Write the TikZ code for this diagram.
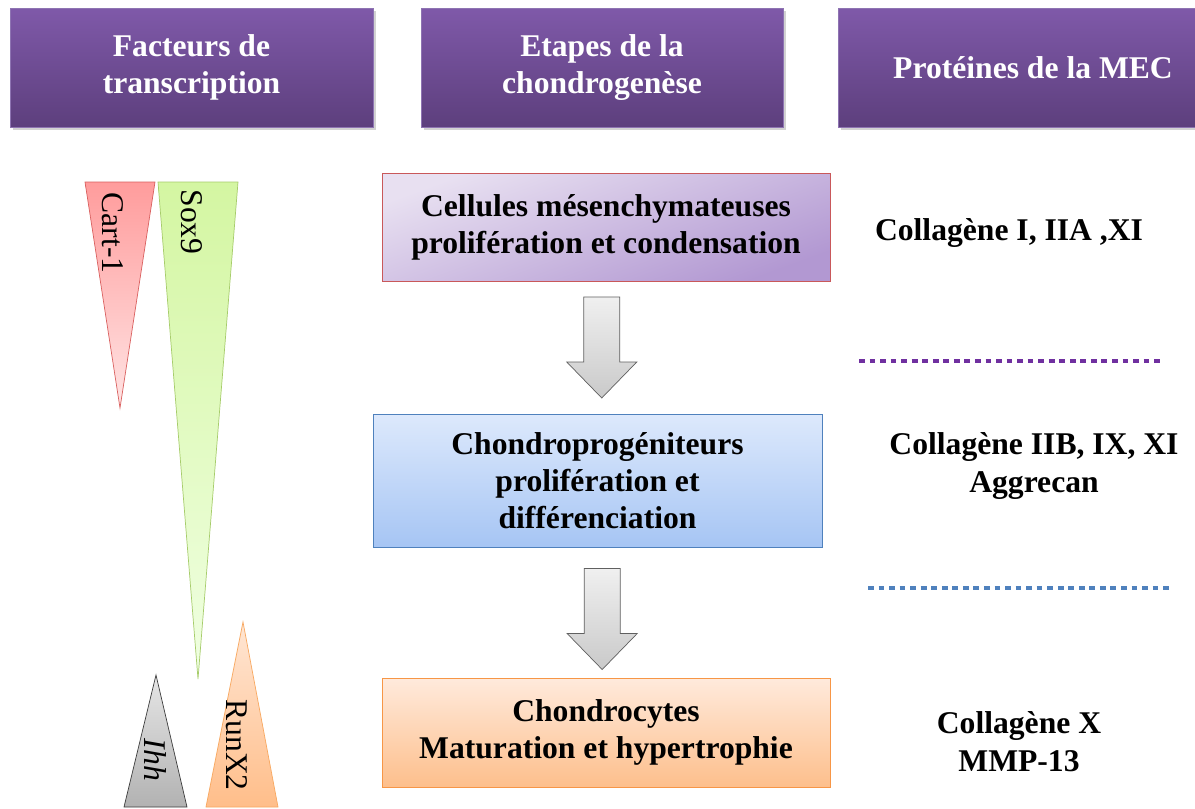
\documentclass[tikz,border=0pt]{standalone}
\usepackage{fontspec}
\setmainfont{Liberation Serif}
\usetikzlibrary{calc,shadows}
\definecolor{chhdrtop}{HTML}{7F59A9}
\definecolor{chhdrbot}{HTML}{5D3F7D}
\definecolor{chhdredge}{HTML}{8E74B2}
\definecolor{chlilaclt}{HTML}{E8E0F1}
\definecolor{chlilac}{HTML}{B298D2}
\definecolor{chred}{HTML}{C9585A}
\definecolor{chskylt}{HTML}{DDE9FC}
\definecolor{chsky}{HTML}{A6C5F4}
\definecolor{chblue}{HTML}{4F81BD}
\definecolor{chpeachlt}{HTML}{FFEADC}
\definecolor{chpeach}{HTML}{FDBF8C}
\definecolor{chorange}{HTML}{F79646}
\definecolor{chpurple}{HTML}{7030A0}
\definecolor{chpink}{HTML}{FF9C9C}
\definecolor{chpinklt}{HTML}{FFE4E4}
\definecolor{chpinkedge}{HTML}{D9605F}
\definecolor{chlime}{HTML}{D4F6A2}
\definecolor{chlimelt}{HTML}{F0FFE2}
\definecolor{chlimeedge}{HTML}{A6CC6A}
\definecolor{chgreylt}{HTML}{E6E6E6}
\definecolor{chgrey}{HTML}{B2B2B2}
\definecolor{chgreyedge}{HTML}{3C3C3C}
\definecolor{chsalmonlt}{HTML}{FFE6D4}
\definecolor{chsalmon}{HTML}{FFBE8A}
\definecolor{chsalmonedge}{HTML}{F8A860}

\tikzset{
  hdrbox/.style={draw=chhdredge,top color=chhdrtop,bottom color=chhdrbot,
    text=white,font=\bfseries\fontsize{18}{21.5}\selectfont,align=center,
    inner sep=0pt,minimum height=2.38cm,
    drop shadow={shadow xshift=1.5pt,shadow yshift=-1.5pt,opacity=0.35}},
  stagebox/.style={font=\bfseries\fontsize{18}{21}\selectfont,align=center,
    inner sep=0pt,minimum width=8.96cm},
  mectext/.style={font=\bfseries\fontsize{18}{21.5}\selectfont,align=center},
  tftext/.style={font=\fontsize{18}{21}\selectfont,rotate=-90},
  sepline/.style={line width=2.8pt,dash pattern=on 3.3pt off 2.7pt},
  downarrow/.pic={
    \draw[draw=gray!75!black,top color=gray!12,bottom color=gray!42]
      (-18,-50.5) -- (18,-50.5) -- (18,14.5) -- (35,14.5) -- (0,50.5)
      -- (-35,14.5) -- (-18,14.5) -- cycle;}
}

\begin{document}
\begin{tikzpicture}[x=0.02cm,y=-0.02cm]

  % ---- Page -------------------------------------------------
  \fill[white] (0,0) rectangle (1195,808);
  \useasboundingbox (0,0) rectangle (1195,808);

  % ============================================================
  %  HEADERS
  % ============================================================
  \node[hdrbox,minimum width=7.26cm] (hdrtf) at (191.5,67.5)
    {Facteurs de\\transcription};
  \node[hdrbox,minimum width=7.24cm] (hdrstage) at (602,67.5)
    {Etapes de la\\chondrogenèse};
  \node[hdrbox,minimum width=7.8cm] (hdrmec) at (1033,67.5)
    {Protéines de la MEC};

  % ============================================================
  %  LEFT: transcription factor wedges
  % ============================================================
  % Cart-1
  \draw[draw=chpinkedge,top color=chpink,bottom color=chpinklt]
    (85,182) -- (155,182) -- (120,408) -- cycle;
  \node[tftext] (cart) at (113,233) {Cart-1};
  % Sox9
  \draw[draw=chlimeedge,top color=chlime,bottom color=chlimelt]
    (158,182) -- (238,182) -- (198,679) -- cycle;
  \node[tftext] (sox) at (192,222) {Sox9};
  % Ihh
  \draw[draw=chgreyedge,top color=chgreylt,bottom color=chgrey]
    (156,675) -- (187,807) -- (124,807) -- cycle;
  \node[tftext] (ihh) at (155,760) {\textit{Ihh}};
  % RunX2
  \draw[draw=chsalmonedge,top color=chsalmonlt,bottom color=chsalmon]
    (243,622) -- (278,807) -- (206,807) -- cycle;
  \node[tftext] (runx) at (237,745) {RunX2};

  % ============================================================
  %  CENTRE: stages of chondrogenesis
  % ============================================================
  \node[stagebox,draw=chred,top color=chlilaclt,bottom color=chlilac,
        shading angle=20,minimum height=2.16cm] (cells) at (606,227)
    {Cellules mésenchymateuses\\prolifération et condensation};
  \node[stagebox,draw=chblue,top color=chskylt,bottom color=chsky,
        minimum width=8.98cm,minimum height=2.66cm] (prog) at (597.5,480.5)
    {Chondroprogéniteurs\\prolifération et\\différenciation};
  \node[stagebox,draw=chorange,top color=chpeachlt,bottom color=chpeach,
        minimum height=2.18cm] (chond) at (606,732.5)
    {Chondrocytes\\Maturation et hypertrophie};

  % Block arrows between stages
  \pic at ($(cells.south)!0.5!(prog.north)$) {downarrow};
  \pic at ($(prog.south)!0.55!(chond.north)$) {downarrow};

  % ============================================================
  %  RIGHT: extracellular matrix proteins
  % ============================================================
  \node[mectext] (mecA) at (1009,233) {Collagène I, IIA ,XI};
  \node[mectext] (mecB) at (1034,466) {Collagène IIB, IX, XI\\Aggrecan};
  \node[mectext] (mecC) at (1019,741.5) {Collagène X\\MMP-13};

  % Separators
  \coordinate (sepAl) at (859,361);
  \coordinate (sepAr) at (1162,361);
  \coordinate (sepBl) at (868,588);
  \coordinate (sepBr) at (1170,588);
  \draw[sepline,chpurple] (sepAl) -- (sepAr);
  \draw[sepline,chblue] (sepBl) -- (sepBr);

\end{tikzpicture}
\end{document}
